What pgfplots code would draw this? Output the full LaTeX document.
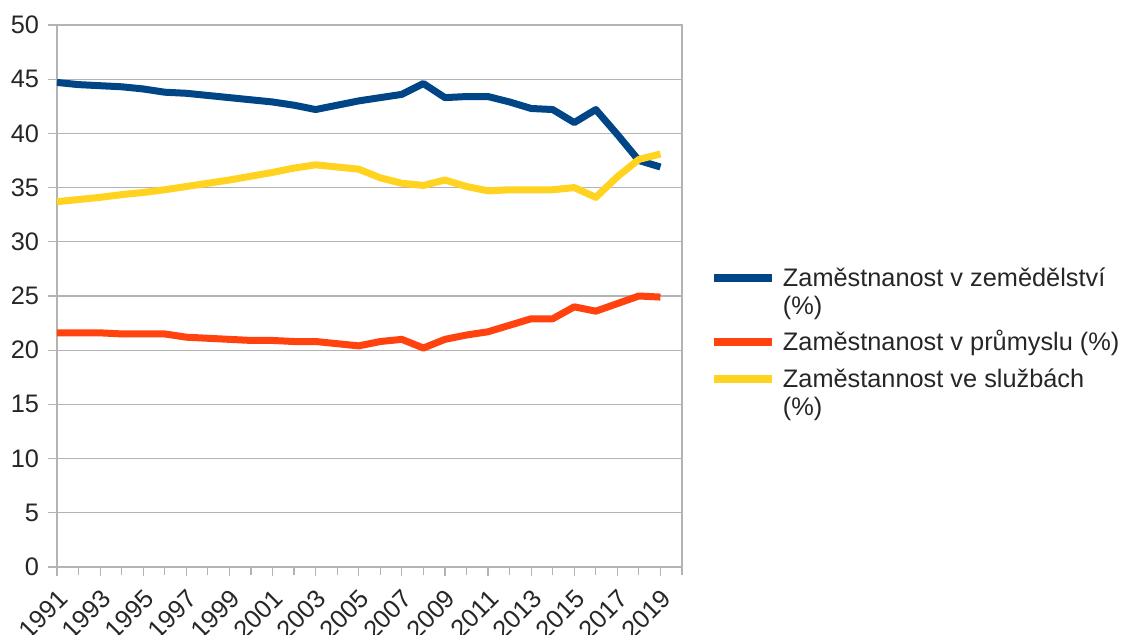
\documentclass[border=0pt]{standalone}
\usepackage{fontspec}
\setmainfont{Liberation Sans}
\usepackage{pgfplots}
\pgfplotsset{compat=1.18}
\definecolor{cblue}{HTML}{004586}
\definecolor{cred}{HTML}{FF420E}
\definecolor{cyel}{HTML}{FFD320}
\definecolor{cgrid}{HTML}{B3B3B3}
\pgfplotsset{
  limg/.style={legend image code/.code={\draw[##1, line width=6pt, line cap=butt] (0pt,0.33em) -- (43.5pt,0.33em); \path[draw=none,fill=none] (0pt,-#1) -- (0pt,18pt);}},
  eimg/.style={legend image code/.code={\path[draw=none,fill=none] (0pt,-#1) -- (0pt,18pt);}},
}
\begin{document}
\fontsize{19}{21}\selectfont
\begin{tikzpicture}
\begin{axis}[
  scale only axis, width=468.75pt, height=406.5pt,
  xmin=1991, xmax=2020, ymin=0, ymax=50,
  xtick={1991,1993,...,2019}, minor xtick={1992,1994,...,2020},
  xticklabels={1991,1993,1995,1997,1999,2001,2003,2005,2007,2009,2011,2013,2015,2017,2019},
  ytick={0,5,...,50},
  yticklabels={0,5,10,15,20,25,30,35,40,45,50},
  xticklabel style={rotate=45, anchor=north east, inner sep=0pt, yshift=-6pt, xshift=-6.5pt, font=\fontsize{19}{21}\selectfont},
  tick align=outside, tick pos=left,
  major tick length=7pt, minor tick length=6pt,
  tick style={cgrid, line width=0.9pt},
  minor tick style={cgrid, line width=0.9pt},
  ymajorgrids, grid style={cgrid, line width=0.9pt},
  axis line style={cgrid, line width=0.9pt},
  yticklabel style={font=\fontsize{19}{21}\selectfont},
  tick label style={text=black!85},
  legend cell align=left,
  legend style={at={(axis description cs:1.0448,0.5625)}, anchor=north west,
    draw=none, fill=none, inner sep=0pt, row sep=0pt,
    font=\fontsize{19}{21}\selectfont,
    cells={anchor=base west},
    nodes={inner sep=0pt, text=black!85}, column sep=0pt},
  every axis plot/.append style={line width=5.25pt, line join=round},
]
\addplot[cblue, limg=3pt] coordinates {
(1991,44.7)(1992,44.5)(1993,44.4)(1994,44.3)(1995,44.1)(1996,43.8)(1997,43.7)(1998,43.5)(1999,43.3)(2000,43.1)
(2001,42.9)(2002,42.6)(2003,42.2)(2004,42.6)(2005,43.0)(2006,43.3)(2007,43.6)(2008,44.6)(2009,43.3)(2010,43.4)
(2011,43.4)(2012,42.9)(2013,42.3)(2014,42.2)(2015,41.0)(2016,42.2)(2017,39.9)(2018,37.5)(2019,36.9)};
\addlegendentry{\hspace{5pt}Zaměstnanost v zemědělství}
\addlegendimage{eimg=9pt}
\addlegendentry{\hspace{5pt}(\%)}
\addplot[cred, limg=9.75pt] coordinates {
(1991,21.6)(1992,21.6)(1993,21.6)(1994,21.5)(1995,21.5)(1996,21.5)(1997,21.2)(1998,21.1)(1999,21.0)(2000,20.9)
(2001,20.9)(2002,20.8)(2003,20.8)(2004,20.6)(2005,20.4)(2006,20.8)(2007,21.0)(2008,20.2)(2009,21.0)(2010,21.4)
(2011,21.7)(2012,22.3)(2013,22.9)(2014,22.9)(2015,24.0)(2016,23.6)(2017,24.3)(2018,25.0)(2019,24.9)};
\addlegendentry{\hspace{5pt}Zaměstnanost v průmyslu (\%)}
\addplot[cyel, limg=3pt] coordinates {
(1991,33.7)(1992,33.9)(1993,34.1)(1994,34.35)(1995,34.55)(1996,34.8)(1997,35.1)(1998,35.4)(1999,35.7)(2000,36.05)
(2001,36.4)(2002,36.8)(2003,37.1)(2004,36.9)(2005,36.7)(2006,35.9)(2007,35.4)(2008,35.2)(2009,35.7)(2010,35.1)
(2011,34.7)(2012,34.8)(2013,34.8)(2014,34.8)(2015,35.0)(2016,34.1)(2017,36.0)(2018,37.6)(2019,38.1)};
\addlegendentry{\hspace{5pt}Zaměstannost ve službách}
\addlegendimage{eimg=3pt}
\addlegendentry{\hspace{5pt}(\%)}
\end{axis}
\pgfresetboundingbox
\path (-42.75pt,-51pt) rectangle (807pt,425.25pt);
\end{tikzpicture}
\end{document}
